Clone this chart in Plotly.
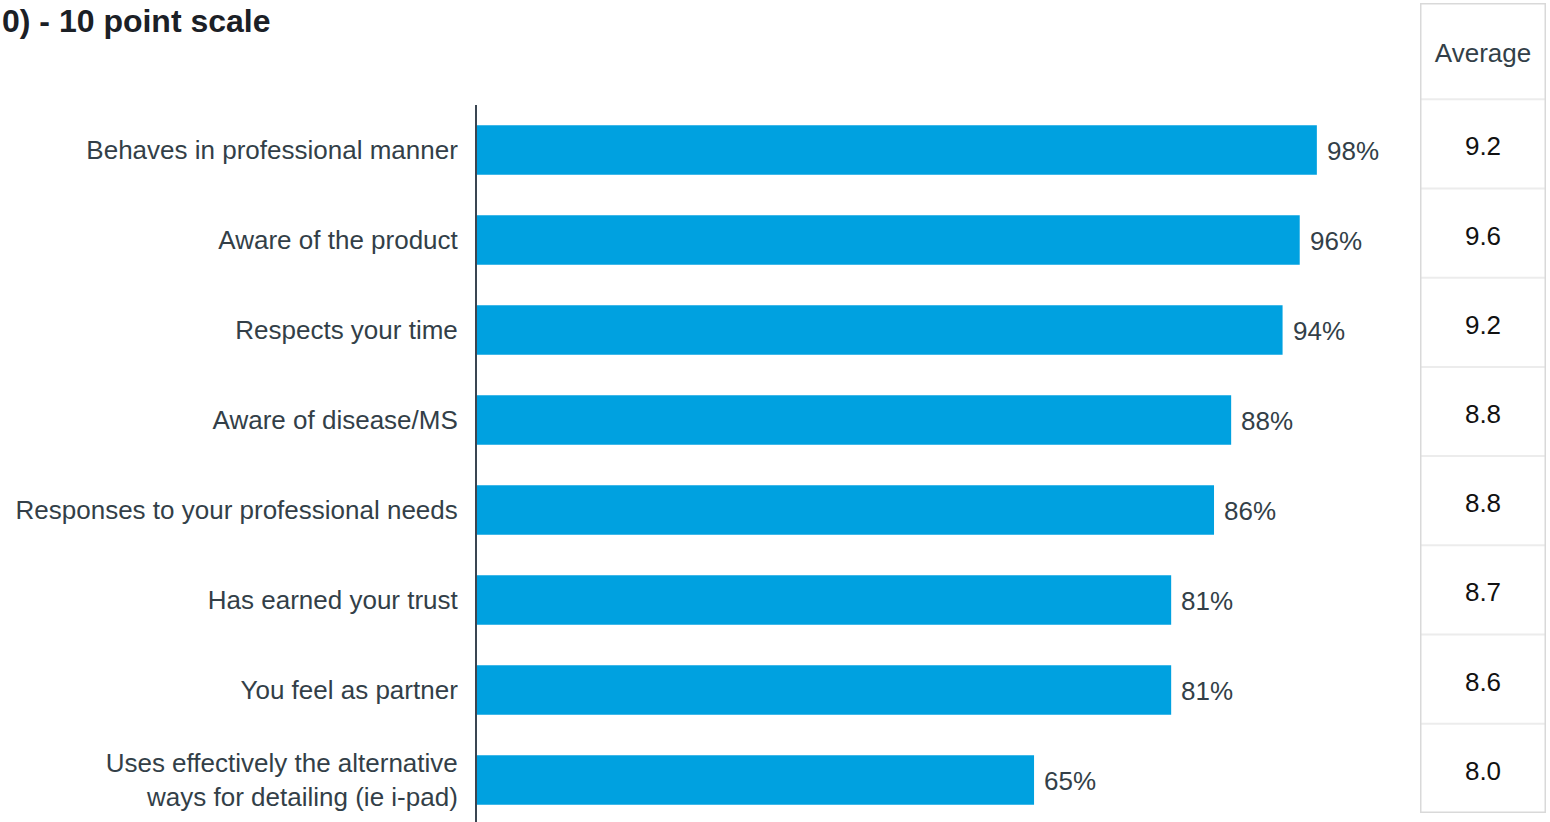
import plotly.graph_objects as go

# Survey items (top to bottom), share of top ratings and average score
items = [
    "Behaves in professional manner",
    "Aware of the product",
    "Respects your time",
    "Aware of disease/MS",
    "Responses to your professional needs",
    "Has earned your trust",
    "You feel as partner",
    "Uses effectively the alternative<br>ways for detailing (ie i-pad)",
]
share_pct = [98, 96, 94, 88, 86, 81, 81, 65]
average = [9.2, 9.6, 9.2, 8.8, 8.8, 8.7, 8.6, 8.0]
table_header = "Average"
title_text = "0) - 10 point scale"

W, H = 1550, 822
BAR_COLOR = "#00a1e0"
TEXT_COLOR = "#333f48"
FONT = "Liberation Sans, Arial, sans-serif"

fig = go.Figure()

# plotly stacks categories bottom-up, so feed them reversed
fig.add_trace(go.Bar(
    y=items[::-1],
    x=share_pct[::-1],
    orientation="h",
    marker=dict(color=BAR_COLOR, line=dict(width=0)),
    width=0.55,
    hoverinfo="skip",
    xaxis="x", yaxis="y",
))

# value labels just beyond each bar end
for it, v in zip(items, share_pct):
    fig.add_annotation(
        x=v, y=it, xref="x", yref="y",
        text=f"{v}%", showarrow=False,
        xanchor="left", xshift=8, yshift=-1,
        font=dict(size=26, color=TEXT_COLOR, family=FONT),
    )

# "Average" column drawn on its own pixel-like axis pair
HEADER_H = 96
ROW_H = 89
TOP = 0
TEXT_DROP = 5
n = len(average)
bottom = TOP + HEADER_H + ROW_H * n

fig.add_trace(go.Scatter(
    x=[0.5] * (n + 1),
    y=[TOP + HEADER_H / 2 + 4]
      + [TOP + HEADER_H + ROW_H * (i + 0.5) + TEXT_DROP for i in range(n)],
    mode="text",
    text=[table_header] + [f"{a:.1f}" for a in average],
    textfont=dict(size=26, color=["#333f48"] + ["#111111"] * n, family=FONT),
    textposition="middle center",
    hoverinfo="skip",
    xaxis="x2", yaxis="y2",
))

# inner row separators
for i in range(n):
    yy = TOP + HEADER_H + ROW_H * i
    fig.add_shape(type="line", xref="x2", yref="y2",
                  x0=0, x1=1, y0=yy, y1=yy,
                  line=dict(color="#ececec", width=2))
# outer frame
fig.add_shape(type="rect", xref="x2", yref="y2",
              x0=0, x1=1, y0=TOP, y1=bottom,
              line=dict(color="#d9d9d9", width=3))

fig.add_annotation(
    x=0, y=1, xref="paper", yref="paper",
    xanchor="left", yanchor="top", yshift=-1,
    text=f"<b>{title_text}</b>", showarrow=False,
    font=dict(size=32, color="#1b2026", family=FONT),
)

fig.update_layout(
    width=W, height=H,
    margin=dict(l=0, r=0, t=0, b=0),
    paper_bgcolor="white", plot_bgcolor="white",
    showlegend=False,
    font=dict(family=FONT, color=TEXT_COLOR, size=26),
    bargap=0.4,
    xaxis=dict(
        domain=[477 / W, 1334 / W], range=[0, 100],
        visible=False, fixedrange=True,
    ),
    yaxis=dict(
        domain=[0, 717 / H],
        type="category",
        categoryorder="array", categoryarray=items[::-1],
        range=[-0.467, 7.5],
        showline=True, linecolor="#3a4652", linewidth=2,
        showgrid=False, zeroline=False,
        ticks="outside", ticklen=12, tickcolor="rgba(0,0,0,0)",
        tickfont=dict(size=26, color=TEXT_COLOR, family=FONT),
        automargin=False, fixedrange=True,
    ),
    xaxis2=dict(
        domain=[1420 / W, 1546 / W], range=[0, 1],
        visible=False, fixedrange=True, anchor="y2",
    ),
    yaxis2=dict(
        domain=[(H - 812 - 1) / H, (H - 4 + 1) / H],
        range=[bottom, TOP],
        visible=False, fixedrange=True, anchor="x2",
    ),
)

fig.write_html("out.html")
